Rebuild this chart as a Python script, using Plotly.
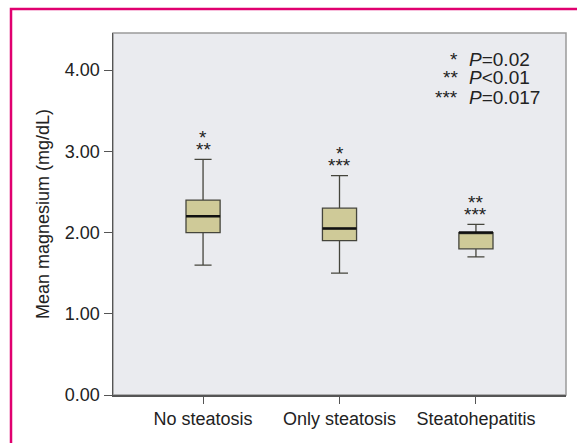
import plotly.graph_objects as go

categories = ["No steatosis", "Only steatosis", "Steatohepatitis"]
q1 = [2.00, 1.90, 1.80]
median = [2.20, 2.05, 2.00]
q3 = [2.40, 2.30, 2.00]
lower_whisker = [1.60, 1.50, 1.70]
upper_whisker = [2.90, 2.70, 2.10]
star_lines_top = ["*", "*", "**"]
star_lines_bottom = ["**", "***", "***"]
legend_stars = ["*", "**", "***"]
legend_texts = ["<i>P</i>=0.02", "<i>P</i><0.01", "<i>P</i>=0.017"]
y_ticks = [0, 1, 2, 3, 4]

FONT = "Liberation Sans, Arial, sans-serif"
BOX_W = 0.25
xs = list(range(len(categories)))

fig = go.Figure()
fig.add_trace(go.Box(
    x=xs, q1=q1, median=median, q3=q3,
    lowerfence=lower_whisker, upperfence=upper_whisker,
    width=BOX_W, whiskerwidth=0.5,
    fillcolor="#cfca98", line=dict(color="#45453c", width=1.3),
    boxpoints=False, hoverinfo="skip", showlegend=False,
))
for i, m in zip(xs, median):
    fig.add_trace(go.Scatter(
        x=[i - BOX_W / 2, i + BOX_W / 2], y=[m, m], mode="lines",
        line=dict(color="#111111", width=2.5), hoverinfo="skip", showlegend=False,
    ))

ann = []
# stacked significance stars above each upper whisker
for i, uw, t, b in zip(xs, upper_whisker, star_lines_top, star_lines_bottom):
    for txt, sh in ((b, 10), (t, 22)):
        ann.append(dict(x=i, y=uw, text=txt, showarrow=False, yanchor="middle",
                        yshift=sh, font=dict(size=19, color="#222", family=FONT)))

# legend block (paper coords computed from plot-area pixel geometry)
L, R, T, B = 113, 566, 33, 395
W, H = R - L, B - T
for k, (s, txt) in enumerate(zip(legend_stars, legend_texts)):
    ypix = 59 + 19 * k
    ann.append(dict(x=(460 - L) / W, y=(B - ypix) / H, xref="paper", yref="paper",
                    text=s, showarrow=False, xanchor="right", yanchor="middle",
                    font=dict(size=19, color="#222", family=FONT)))
    ann.append(dict(x=(467 - L) / W, y=(B - ypix) / H, xref="paper", yref="paper",
                    text=txt, showarrow=False, xanchor="left", yanchor="middle",
                    font=dict(size=19, color="#222", family=FONT)))

shapes = [
    dict(type="rect", xref="paper", yref="paper", x0=0, x1=1, y0=0, y1=1,
         line=dict(color="#9a9a9a", width=1.5), layer="below"),
    dict(type="rect", xref="paper", yref="paper",
         x0=(11 - L) / W, x1=1.2, y0=-0.5, y1=(B - 9) / H,
         line=dict(color="#e0006f", width=2.5), layer="above"),
]

fig.update_layout(
    width=577, height=443,
    margin=dict(l=L, r=577 - R, t=T, b=443 - B),
    paper_bgcolor="white", plot_bgcolor="#eaebef",
    font=dict(family=FONT, size=18, color="#222"),
    annotations=ann, shapes=shapes, showlegend=False,
)
fig.update_xaxes(
    range=[-0.66, 2.66], tickvals=xs, ticktext=categories,
    ticks="outside", ticklen=7, tickcolor="#555", showline=True,
    linecolor="#555", linewidth=1.5, showgrid=False, zeroline=False,
    tickfont=dict(size=18), automargin=False,
)
fig.update_yaxes(
    range=[0, 4.457], tickvals=y_ticks, tickformat=".2f",
    ticks="outside", ticklen=8, tickcolor="#555", showline=True,
    linecolor="#555", linewidth=1.5, showgrid=False, zeroline=False,
    tickfont=dict(size=18), automargin=False,
    title=dict(text="Mean magnesium (mg/dL)", font=dict(size=18), standoff=10),
)
fig.write_html(
    "out.html",
    config={"displayModeBar": False, "staticPlot": True},
    post_script="document.body.style.margin='0';document.body.style.overflow='hidden';",
)
